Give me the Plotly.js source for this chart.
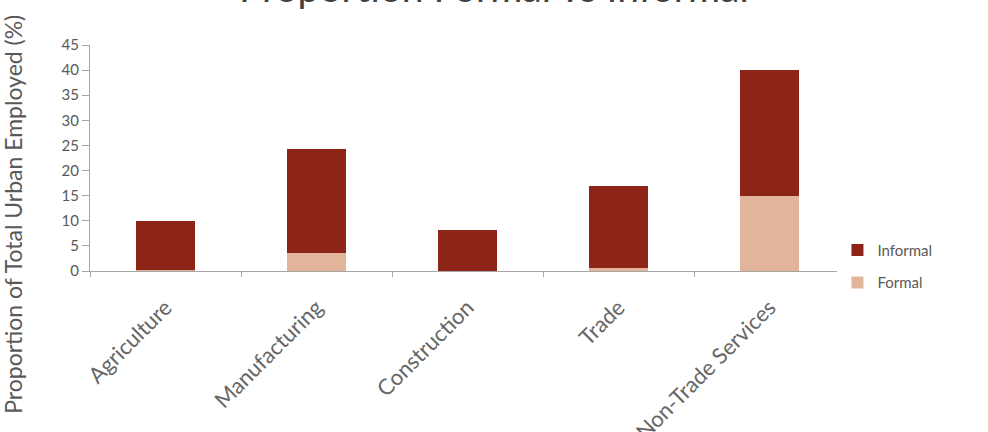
<!DOCTYPE html>
<html>
<head>
<meta charset="utf-8">
<script src="https://cdn.plot.ly/plotly-3.0.1.min.js"></script>
<style>html,body{margin:0;padding:0;background:#fff;}#chart{width:988px;height:432px;}</style>
</head>
<body>
<div id="chart"></div>
<script>
const categories = ["Agriculture", "Manufacturing", "Construction", "Trade", "Non-Trade Services"];
const formalValues = [0.2, 3.6, 0.1, 0.5, 15.0];
const informalValues = [9.8, 20.7, 8.1, 16.5, 25.0];
const seriesNames = ["Formal", "Informal"];
const yTickValues = [0, 5, 10, 15, 20, 25, 30, 35, 40, 45];

const FONT = "Lato, 'Open Sans', 'DejaVu Sans', sans-serif";
const GRAY = "#595959";

const traces = [
  {
    type: "bar", name: seriesNames[0], x: categories, y: formalValues,
    marker: {color: "#E2B49C"}, width: 0.39, legendgroup: "f", legendrank: 2
  },
  {
    type: "bar", name: seriesNames[1], x: categories, y: informalValues,
    marker: {color: "#8C2417"}, width: 0.39, legendgroup: "i", legendrank: 1
  }
];

const layout = {
  width: 988, height: 432,
  margin: {l: 90, r: 143, t: 45, b: 161},
  paper_bgcolor: "#fff", plot_bgcolor: "#fff",
  barmode: "stack",
  font: {family: FONT, color: GRAY, size: 13},
  xaxis: {
    type: "category", automargin: false,
    showline: true, linecolor: "#A6A6A6", linewidth: 1,
    ticks: "outside", tickson: "boundaries", ticklen: 5, tickcolor: "#A6A6A6",
    tickangle: -45, tickfont: {family: FONT, size: 22, color: "#666666"},
    ticklabelstandoff: 14,
    showgrid: false, zeroline: false
  },
  yaxis: {
    range: [0, 45], tickvals: yTickValues, automargin: false,
    showline: true, linecolor: "#A6A6A6", linewidth: 1,
    ticks: "outside", ticklen: 7, tickcolor: "#A6A6A6",
    tickfont: {family: FONT, size: 15, color: GRAY},
    showgrid: false, zeroline: false
  },
  legend: {
    x: 0.99, xanchor: "left", y: 0.165, yanchor: "top",
    traceorder: "grouped", tracegroupgap: 10,
    font: {family: FONT, size: 15, color: GRAY},
    itemwidth: 30
  },
  annotations: [
    {
      text: "Proportion Formal vs Informal",
      xref: "paper", yref: "paper", x: 0.535, y: 1.255,
      xanchor: "center", yanchor: "middle", showarrow: false,
      font: {family: FONT, size: 39, color: "#404040"}
    },
    {
      text: "Proportion of Total Urban Employed (%)",
      textangle: -90, xref: "paper", yref: "paper",
      x: -0.103, y: 0.25, xanchor: "center", yanchor: "middle",
      showarrow: false, font: {family: FONT, size: 23, color: GRAY}
    }
  ]
};

Plotly.newPlot("chart", traces, layout, {displayModeBar: false, staticPlot: true});
</script>
</body>
</html>
